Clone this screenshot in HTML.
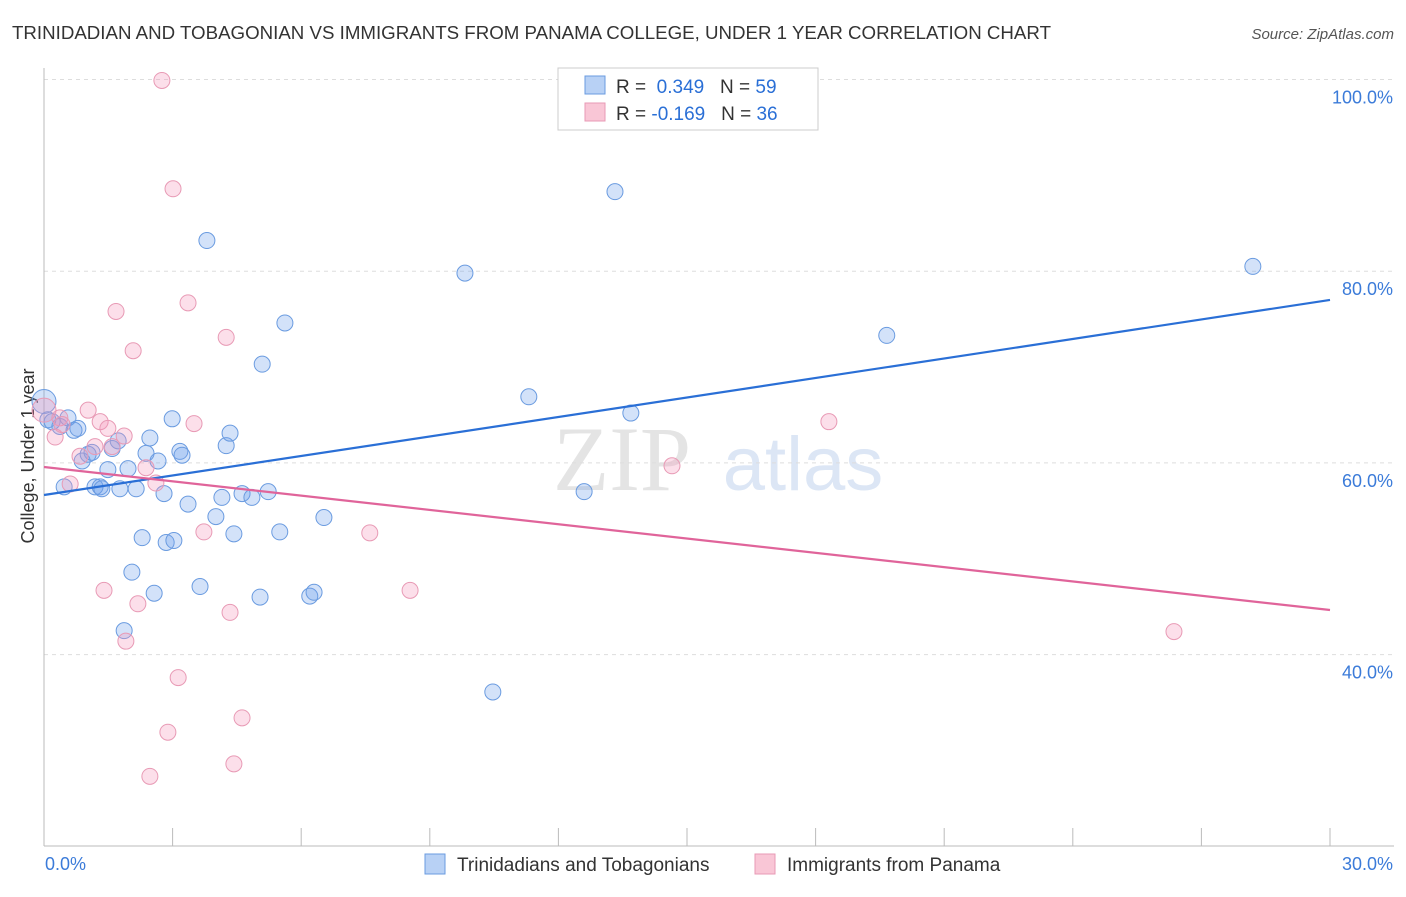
<!DOCTYPE html>
<html><head><meta charset="utf-8"><style>
body{margin:0;background:#fff;font-family:"Liberation Sans",sans-serif;}
</style></head><body>
<svg id="c" width="1406" height="892" xmlns="http://www.w3.org/2000/svg">
<text x="12" y="39" font-size="18" fill="#333" textLength="1039" lengthAdjust="spacingAndGlyphs">TRINIDADIAN AND TOBAGONIAN VS IMMIGRANTS FROM PANAMA COLLEGE, UNDER 1 YEAR CORRELATION CHART</text>
<text x="1394" y="39" font-size="15" fill="#555" font-style="italic" text-anchor="end">Source: ZipAtlas.com</text>
<text x="622" y="490" font-size="92" fill="#e4e4e4" font-family="Liberation Serif" text-anchor="middle">ZIP</text>
<text x="803" y="490" font-size="76" fill="#dce6f5" text-anchor="middle">atlas</text>
<text transform="translate(34,456) rotate(-90)" font-size="18" fill="#333" text-anchor="middle">College, Under 1 year</text>
<g id="grid"></g><g id="pts"></g><g id="lines"></g>
<g>
<rect x="558" y="68" width="260" height="62" fill="#fff" stroke="#ccc"/>
<rect x="585" y="76" width="20" height="18" fill="#b8d1f5" stroke="#6a9be0"/>
<rect x="585" y="103" width="20" height="18" fill="#f9c6d6" stroke="#e89ab5"/>
<text x="616" y="93" font-size="19" fill="#333">R = <tspan fill="#2a6fd6">&#160;0.349</tspan>&#160;&#160;&#160;N = <tspan fill="#2a6fd6">59</tspan></text>
<text x="616" y="120" font-size="19" fill="#333">R = <tspan fill="#2a6fd6">-0.169</tspan>&#160;&#160;&#160;N = <tspan fill="#2a6fd6">36</tspan></text>
</g>
<g>
<rect x="425" y="854" width="20" height="20" fill="#b8d1f5" stroke="#6a9be0"/>
<text x="457" y="871" font-size="19" fill="#333">Trinidadians and Tobagonians</text>
<rect x="755" y="854" width="20" height="20" fill="#f9c6d6" stroke="#e89ab5"/>
<text x="787" y="871" font-size="19" fill="#333">Immigrants from Panama</text>
</g>
</svg>
<script>
const yTicks=[40,60,80,100];
const yTickLabels=["40.0%","60.0%","80.0%","100.0%"];
const blueX=[0,0.09,0.19,0.37,0.56,0.7,0.79,0.89,1.03,1.12,0.47,1.19,1.31,1.35,1.49,1.59,1.73,1.77,1.96,2.05,1.87,2.15,2.29,2.38,2.47,2.57,2.66,2.8,2.85,3.03,2.99,3.17,3.22,3.36,3.64,3.8,4.01,4.15,4.25,4.34,4.43,4.62,4.85,5.04,5.09,5.23,5.5,5.62,6.2,6.3,6.53,9.82,10.47,11.31,12.6,13.32,13.69,19.66,28.2];
const blueY=[66.4,64.5,64.3,63.8,64.7,63.4,63.6,60.2,60.9,61.1,57.5,57.5,57.5,57.3,59.3,61.5,62.3,57.3,59.4,48.6,42.5,57.3,52.2,61.0,62.6,46.4,60.2,56.8,51.7,51.9,64.6,61.2,60.8,55.7,47.1,83.2,54.4,56.4,61.8,63.1,52.6,56.8,56.4,46.0,70.3,57.0,52.8,74.6,46.1,46.5,54.3,79.8,36.1,66.9,57.0,88.3,65.2,73.3,80.5];
const pinkX=[0,0.26,0.37,0.61,0.84,1.03,1.31,1.4,1.49,1.59,1.68,1.87,1.91,2.08,2.19,2.38,2.47,2.61,2.75,2.89,3.01,3.13,3.36,3.5,3.73,4.25,4.34,4.43,4.62,7.6,8.54,14.65,18.31,26.36,0.42,1.19];
const pinkY=[65.5,62.7,64.7,57.8,60.7,65.5,64.3,46.7,63.6,61.7,75.8,62.8,41.4,71.7,45.3,59.5,27.3,57.9,99.9,31.9,88.6,37.6,76.7,64.1,52.8,73.1,44.4,28.6,33.4,52.7,46.7,59.7,64.3,42.4,64.0,61.7];
const blueTrend=[56.65,77.0];
const pinkTrend=[59.57,44.65];
const xs=v=>44+v*(1286/30);
const ys=v=>79.5+(100-v)*9.585;
const NS="http://www.w3.org/2000/svg";
function mk(t,a,p){const e=document.createElementNS(NS,t);for(const k in a)e.setAttribute(k,a[k]);p.appendChild(e);return e;}
const g=document.getElementById('grid');
yTicks.forEach((t,i)=>{
 const l=mk('line',{x1:44,x2:1394,y1:ys(t),y2:ys(t),stroke:'#ddd','stroke-dasharray':'4,4'},g);
 
 
 const tx=mk('text',{x:1393,y:ys(t)+24,'font-size':18,fill:'#3b7bd9','text-anchor':'end'},g);
 tx.textContent=yTickLabels[i];
 
 
});
mk('line',{x1:44,x2:44,y1:68,y2:846,stroke:'#bbb'},g);
mk('line',{x1:44,x2:1394,y1:846,y2:846,stroke:'#bbb'},g);
for(let i=0;i<=10;i++){const t=mk('line',{x1:xs(i*3),x2:xs(i*3),y1:828,y2:846,stroke:'#bbb'},g);
 
 }
const x0=mk('text',{x:45,y:870,'font-size':18,fill:'#3b7bd9'},g);x0.textContent='0.0%';


const x1=mk('text',{x:1393,y:870,'font-size':18,fill:'#3b7bd9','text-anchor':'end'},g);x1.textContent='30.0%';


const p=document.getElementById('pts');
blueX.forEach((x,i)=>{const c=mk('circle',{cx:xs(x),cy:ys(blueY[i]),r:i==0?12:8,fill:'rgba(110,160,235,0.3)',stroke:'#6a9be0','stroke-width':1},p);
 
 });
pinkX.forEach((x,i)=>{const c=mk('circle',{cx:xs(x),cy:ys(pinkY[i]),r:i==0?12:8,fill:'rgba(245,150,185,0.3)',stroke:'#e89ab5','stroke-width':1},p);
 
 });
const L=document.getElementById('lines');
const bl=mk('line',{x1:xs(0),y1:ys(blueTrend[0]),x2:xs(30),y2:ys(blueTrend[1]),stroke:'#2a6fd6','stroke-width':2.2},L);


const pl=mk('line',{x1:xs(0),y1:ys(pinkTrend[0]),x2:xs(30),y2:ys(pinkTrend[1]),stroke:'#e0649a','stroke-width':2.2},L);


</script>
</body></html>
